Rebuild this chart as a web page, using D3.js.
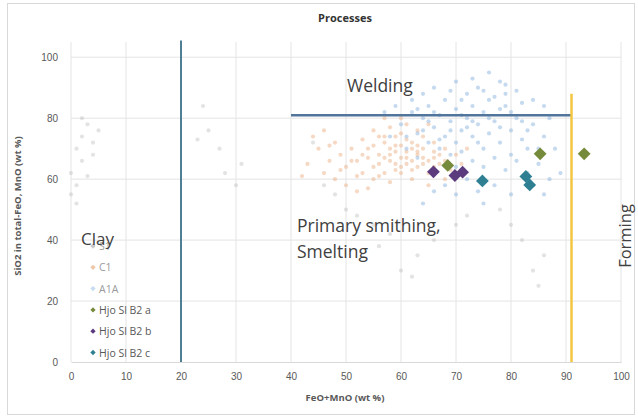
<!DOCTYPE html>
<html>
<head>
<meta charset="utf-8">
<style>
  body { margin: 0; background: #fff; }
  svg { font-family: "Open Sans", "Liberation Sans", sans-serif; }
  .grid line { stroke: #e4e4e4; stroke-width: 1; }
  .tick-label { fill: #595959; font-size: 10px; }
</style>
</head>
<body>
<script src="https://d3js.org/d3.v7.min.js"></script>
<script>
// x ticks and y ticks
var xTicks = [0, 10, 20, 30, 40, 50, 60, 70, 80, 90, 100];
var yTicks = [0, 20, 40, 60, 80, 100];

// faint background series (FeO+MnO, SiO2 ...)
var s1Points = [[0,62],[1,70],[1,58],[2,74],[2,66],[3,78],[3,61],[4,72],[4,68],[5,76],[2,80],[0,55],[1,52],
  [24,84],[25,76],[27,70],[30,58],[31,65],[28,62],[23,73],[44,72],[46,58],[50,50],[55,45],[58,42],[60,30],
  [62,28],[63,35],[66,40],[70,45],[72,48],[78,50],[80,45],[82,40],[84,30],[85,25],[86,35],[56,38],[52,48],[48,55]];

var c1Points = [[52,66],[54,70],[55,64],[56,68],[57,72],[58,66],[58,70],[59,63],[59,74],[60,67],[60,71],[61,65],
  [61,69],[62,72],[62,66],[63,68],[63,64],[64,70],[64,74],[65,66],[65,62],[66,69],[66,72],[67,65],[67,68],[68,70],
  [57,62],[55,60],[53,62],[51,70],[50,64],[49,68],[48,72],[47,66],[46,62],[45,70],[44,74],[43,65],[50,58],[54,57],
  [58,59],[62,60],[60,75],[58,77],[56,74],[61,78],[63,76],[65,78],[59,69],[57,67],[61,67],[63,71],[62,63],[60,62],
  [56,65],[54,67],[53,73],[52,61],[64,67],[66,64],[68,66],[69,63],[70,68],[71,65],[72,70],[60,80],[57,80],[55,76],
  [48,60],[46,76],[42,61],[52,56],[65,58],[68,60],[59,65],[61,73],[63,69],[58,68],[60,64],[62,70],[64,65],[66,67],
  [55,71],[57,74],[59,71],[56,61],[53,68],[51,66],[49,63],[47,71]];

var a1aPoints = [[60,78],[62,82],[63,75],[64,80],[65,84],[66,77],[67,81],[68,74],[68,86],[69,79],[70,83],[70,72],
  [71,76],[72,80],[72,88],[73,74],[73,84],[74,78],[75,82],[75,70],[76,86],[76,75],[77,79],[78,72],[78,83],[79,88],
  [80,76],[80,68],[81,80],[82,73],[82,85],[83,70],[84,78],[85,65],[86,74],[87,80],[88,70],[89,62],[66,90],[70,92],
  [74,90],[78,92],[64,88],[62,86],[58,74],[57,82],[59,84],[61,70],[63,67],[65,72],[67,70],[69,68],[71,69],[73,66],
  [75,64],[77,67],[79,63],[81,66],[83,62],[71,86],[69,89],[73,93],[76,95],[79,91],[81,89],[84,86],[86,84],[66,82],
  [64,76],[72,77],[74,72],[76,80],[78,77],[80,82],[71,81],[69,76],[67,73],[65,79],[63,83],[61,74],[70,64],[72,60],
  [74,56],[77,58],[80,55],[84,58],[86,55],[75,52],[70,55],[68,58],[66,56],[64,52],[87,60],[85,70],[83,76],[82,79],
  [79,84],[77,87],[75,89],[73,79]];

// slag samples
var hjoA = [[68.5,64.5],[85.3,68.3],[93.3,68.3]];
var hjoB = [[65.9,62.4],[69.8,61.2],[71.2,62.3]];
var hjoC = [[74.8,59.4],[82.7,60.9],[83.4,58.1]];

var legendNames = ["S1", "C1", "A1A", "Hjo Sl B2 a", "Hjo Sl B2 b", "Hjo Sl B2 c"];

var width = 638, height = 416;
var margin = {left: 71, right: 17, top: 42, bottom: 54};

var svg = d3.select("body").append("svg")
    .attr("width", width)
    .attr("height", height);

// chart border
svg.append("rect")
    .attr("x", 7.5).attr("y", 3.5)
    .attr("width", 627).attr("height", 411)
    .attr("fill", "#fff")
    .attr("stroke", "#d9d9d9");

var x = d3.scaleLinear().domain([0, 100]).range([margin.left, width - margin.right]);
var y = d3.scaleLinear().domain([0, 105]).range([height - margin.bottom, margin.top]);

// gridlines
var grid = svg.append("g").attr("class", "grid");
grid.selectAll(".vg").data(xTicks).enter().append("line")
    .attr("x1", function(d){ return x(d); }).attr("x2", function(d){ return x(d); })
    .attr("y1", y(0)).attr("y2", y(105));
grid.selectAll(".hg").data(yTicks.filter(function(d){ return d > 0; })).enter().append("line")
    .attr("x1", x(0)).attr("x2", x(100))
    .attr("y1", function(d){ return y(d); }).attr("y2", function(d){ return y(d); });

// axes
var xAxis = svg.append("g")
    .attr("transform", "translate(0," + y(0) + ")")
    .call(d3.axisBottom(x).tickValues(xTicks).tickSize(0).tickPadding(11));
var yAxis = svg.append("g")
    .attr("transform", "translate(" + x(0) + ",0)")
    .call(d3.axisLeft(y).tickValues(yTicks).tickSize(0).tickPadding(13));
xAxis.select(".domain").attr("stroke", "#d9d9d9");
yAxis.select(".domain").remove();
svg.selectAll(".tick text").attr("class", "tick-label").attr("font-family", null).attr("font-size", null);

// background scatter
function dots(data, color, op) {
  svg.append("g").selectAll("circle").data(data).enter().append("circle")
      .attr("cx", function(d){ return x(d[0]); })
      .attr("cy", function(d){ return y(d[1]); })
      .attr("r", 2.1)
      .attr("fill", color)
      .attr("opacity", op);
}
dots(s1Points, "#b8b8b8", 0.4);
dots(c1Points, "#eeb48a", 0.5);
dots(a1aPoints, "#8db5df", 0.5);

// process boundaries
svg.append("line")
    .attr("x1", x(20)).attr("x2", x(20)).attr("y1", y(0)).attr("y2", y(105.5))
    .attr("stroke", "#4f7f95").attr("stroke-width", 2);
svg.append("line")
    .attr("x1", x(40)).attr("x2", x(91)).attr("y1", y(81)).attr("y2", y(81))
    .attr("stroke", "#52759b").attr("stroke-width", 2.5);
svg.append("line")
    .attr("x1", x(91)).attr("x2", x(91)).attr("y1", y(0)).attr("y2", y(88))
    .attr("stroke", "#f3c63f").attr("stroke-width", 2.5);

// slag sample diamonds
var diamond = d3.symbol().type(d3.symbolSquare).size(82);
function diamonds(data, color) {
  svg.append("g").selectAll("path").data(data).enter().append("path")
      .attr("d", diamond)
      .attr("transform", function(d){ return "translate(" + x(d[0]) + "," + y(d[1]) + ") rotate(45)"; })
      .attr("fill", color);
}
diamonds(hjoA, "#768a3c");
diamonds(hjoB, "#5b3a7e");
diamonds(hjoC, "#2f7f93");

// legend
var legendColors = ["#c8c8c8", "#eec6a8", "#c8dcf0", "#768a3c", "#5b3a7e", "#2f7f93"];
var legend = svg.append("g").attr("transform", "translate(93,246)");
var li = legend.selectAll("g").data(legendNames).enter().append("g")
    .attr("transform", function(d, i){ return "translate(0," + (i * 21.3) + ")"; });
li.append("path")
    .attr("d", d3.symbol().type(d3.symbolSquare).size(14))
    .attr("transform", "rotate(45)")
    .attr("fill", function(d, i){ return legendColors[i]; });
li.append("text")
    .attr("x", 6).attr("y", 4)
    .attr("font-size", 10.5)
    .attr("fill", function(d, i){ return i < 3 ? "#9a9a9a" : "#595959"; })
    .text(function(d){ return d; });

// annotations
function note(txt, tx, ty, size, rot) {
  var t = svg.append("text")
      .attr("font-size", size)
      .attr("fill", "#404040")
      .text(txt);
  if (rot) {
    t.attr("text-anchor", "middle").attr("transform", "translate(" + tx + "," + ty + ") rotate(-90)");
  } else {
    t.attr("x", tx).attr("y", ty);
  }
}
note("Welding", 347, 92, 17.5);
note("Primary smithing,", 297, 232, 17.5);
note("Smelting", 297, 258, 17.5);
note("Clay", 81, 245, 17);
note("Forming", 631, 236, 16.5, true);

// titles
svg.append("text")
    .attr("x", 345).attr("y", 22)
    .attr("text-anchor", "middle")
    .attr("font-size", 11).attr("font-weight", "bold")
    .attr("fill", "#333")
    .text("Processes");
svg.append("text")
    .attr("x", 345).attr("y", 401)
    .attr("text-anchor", "middle")
    .attr("font-size", 9.5).attr("font-weight", "bold")
    .attr("fill", "#595959")
    .text("FeO+MnO (wt %)");
svg.append("text")
    .attr("transform", "translate(21,206) rotate(-90)")
    .attr("text-anchor", "middle")
    .attr("font-size", 9.5).attr("font-weight", "bold")
    .attr("fill", "#595959")
    .text("SiO2 in total-FeO, MnO (wt %)");
</script>
</body>
</html>
